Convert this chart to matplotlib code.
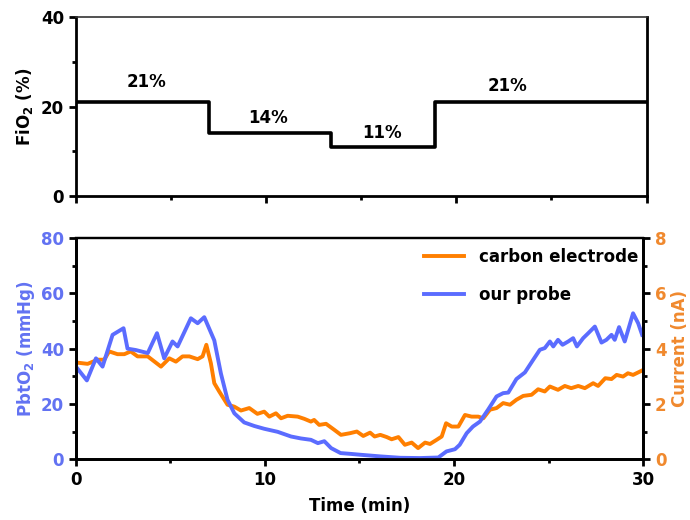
import numpy as np
import matplotlib.pyplot as plt
from matplotlib.ticker import MultipleLocator

plt.rcParams['font.family'] = 'DejaVu Sans'
plt.rcParams['font.weight'] = 'bold'
plt.rcParams['mathtext.default'] = 'bf'

BLUE = '#5B6CFF'
ORANGE = '#FF7F00'
BLUE_TXT = '#6272F2'
ORANGE_TXT = '#F0892E'

# FiO2 steps (min, %)
fio2_t = [0, 7.0, 13.4, 18.9, 30]
fio2_v = [21, 14, 11, 21, 21]
fio2_labels = ['21%', '14%', '11%', '21%']
fio2_label_x = [3.7, 10.1, 16.1, 22.7]
fio2_label_y = [25.5, 17.4, 14.1, 24.6]

# our probe: PbtO2 (mmHg)
probe_t = [0, 0.58, 1.06, 1.41, 1.94, 2.52, 2.73, 3.17, 3.8, 4.29, 4.67, 5.11, 5.38,
           6.08, 6.44, 6.79, 7.32, 7.67, 8.02, 8.38, 8.9, 9.44, 9.96, 10.67, 11.38,
           11.9, 12.43, 12.8, 13.14, 13.5, 14.0, 14.55, 15.04, 16.1, 17.15, 18.2,
           19.17, 19.6, 20.05, 20.3, 20.67, 21.0, 21.37, 21.8, 22.25, 22.6, 22.87,
           23.3, 23.75, 24.19, 24.54, 24.8, 25.07, 25.25, 25.5, 25.74, 26.04, 26.3,
           26.5, 26.83, 27.1, 27.45, 27.8, 28.06, 28.33, 28.5, 28.73, 29.03, 29.47,
           29.74, 29.95]
probe_v = [33.5, 28.5, 36.5, 33.5, 45, 47.4, 40, 39.5, 38.4, 45.6, 36.5, 42.6, 40.8,
           51, 49.2, 51.4, 43, 31, 21.5, 16.6, 13.3, 12, 11, 9.9, 8.2,
           7.5, 7, 5.8, 6.5, 4, 2.2, 1.9, 1.6, 1.0, 0.5, 0.4,
           0.6, 2.8, 3.6, 5.2, 9.4, 11.8, 13.6, 17.9, 22.7, 23.9, 24.1,
           29, 31.4, 36, 39.6, 40.2, 42.6, 40.8, 43.2, 41.4, 42.6, 43.8,
           40.8, 43.8, 45.6, 48, 42.2, 43.2, 45, 43.2, 47.8, 42.6, 52.8,
           49.2, 45]

# carbon electrode: current (nA)
carbon_t = [0, 0.62, 1.15, 1.5, 1.76, 2.2, 2.56, 2.9, 3.26, 3.8, 4.5, 4.94, 5.29,
            5.64, 6.0, 6.44, 6.7, 6.9, 7.14, 7.32, 7.58, 8.02, 8.38, 8.73, 9.17,
            9.6, 9.96, 10.23, 10.58, 10.85, 11.2, 11.73, 12.08, 12.43, 12.6, 12.87,
            13.23, 13.67, 14.02, 14.5, 14.86, 15.2, 15.56, 15.8, 16.1, 16.44, 16.7,
            17.06, 17.4, 17.76, 18.1, 18.47, 18.73, 19.08, 19.35, 19.58, 19.88,
            20.23, 20.58, 20.93, 21.28, 21.55, 21.9, 22.25, 22.6, 22.96, 23.3,
            23.66, 24.1, 24.45, 24.8, 25.07, 25.5, 25.86, 26.2, 26.57, 26.92,
            27.36, 27.62, 28.0, 28.33, 28.6, 28.94, 29.2, 29.47, 29.95]
carbon_v = [3.5, 3.45, 3.6, 3.6, 3.9, 3.8, 3.8, 3.9, 3.72, 3.72, 3.35, 3.65, 3.53,
            3.72, 3.72, 3.62, 3.72, 4.14, 3.47, 2.75, 2.45, 1.97, 1.9, 1.76, 1.85,
            1.64, 1.72, 1.54, 1.66, 1.48, 1.57, 1.54, 1.46, 1.36, 1.42, 1.24,
            1.28, 1.06, 0.88, 0.94, 1.0, 0.84, 0.96, 0.82, 0.88, 0.8, 0.72,
            0.8, 0.52, 0.6, 0.4, 0.6, 0.55, 0.7, 0.82, 1.3, 1.18,
            1.18, 1.6, 1.54, 1.54, 1.48, 1.79, 1.85, 2.03, 1.97, 2.15,
            2.29, 2.33, 2.53, 2.45, 2.63, 2.51, 2.65, 2.57, 2.65, 2.57,
            2.75, 2.65, 2.93, 2.9, 3.05, 2.99, 3.11, 3.05, 3.21]

fig = plt.figure(figsize=(6.9, 5.2), dpi=100)
ax1 = fig.add_axes([0.110, 0.623, 0.827, 0.344])
ax2 = fig.add_axes([0.110, 0.117, 0.822, 0.425])
ax3 = ax2.twinx()

FS = 12

# top panel
ax1.step(fio2_t, fio2_v, where='post', color='black', lw=2.6)
for lab, lx, ly in zip(fio2_labels, fio2_label_x, fio2_label_y):
    ax1.text(lx, ly, lab, ha='center', va='center', fontsize=FS, fontweight='bold')
ax1.set_xlim(0, 30)
ax1.set_ylim(0, 40)
ax1.xaxis.set_major_locator(MultipleLocator(10))
ax1.xaxis.set_minor_locator(MultipleLocator(5))
ax1.yaxis.set_major_locator(MultipleLocator(20))
ax1.yaxis.set_minor_locator(MultipleLocator(10))
ax1.set_xticklabels([])
ax1.set_ylabel('FiO$_2$ (%)', fontsize=FS, fontweight='bold', labelpad=4)
for s in ['left', 'bottom', 'right']:
    ax1.spines[s].set_linewidth(2.0)
ax1.spines['top'].set_linewidth(1.2)
ax1.spines['top'].set_color('#333333')
ax1.tick_params(which='both', direction='out', width=2.0, labelsize=FS)
ax1.tick_params(which='major', length=5)
ax1.tick_params(which='minor', length=3)

# bottom panel
l2, = ax2.plot(probe_t, probe_v, color=BLUE, lw=2.8, label='our probe')
l3, = ax3.plot(carbon_t, carbon_v, color=ORANGE, lw=2.8, label='carbon electrode')
ax2.set_zorder(ax3.get_zorder() + 1)
ax2.patch.set_visible(False)
ax2.set_xlim(0, 30)
ax2.set_ylim(0, 80)
ax3.set_ylim(0, 8)
ax2.xaxis.set_major_locator(MultipleLocator(10))
ax2.xaxis.set_minor_locator(MultipleLocator(5))
ax2.yaxis.set_major_locator(MultipleLocator(20))
ax2.yaxis.set_minor_locator(MultipleLocator(10))
ax3.yaxis.set_major_locator(MultipleLocator(2))
ax3.yaxis.set_minor_locator(MultipleLocator(1))
ax2.set_xlabel('Time (min)', fontsize=FS, fontweight='bold', labelpad=6)
ax2.set_ylabel('PbtO$_2$ (mmHg)', fontsize=FS, fontweight='bold', color=BLUE_TXT, labelpad=3)
ax3.set_ylabel('Current (nA)', fontsize=FS, fontweight='bold', color=ORANGE_TXT, labelpad=3)
for a in (ax2, ax3):
    for s in ['left', 'bottom', 'right']:
        a.spines[s].set_linewidth(2.0)
    a.spines['top'].set_linewidth(1.6)
    a.tick_params(which='both', direction='out', width=2.0, labelsize=FS)
    a.tick_params(which='major', length=5)
    a.tick_params(which='minor', length=3)
ax2.tick_params(axis='y', labelcolor=BLUE_TXT)
ax3.tick_params(axis='y', labelcolor=ORANGE_TXT)
ax2.legend([l3, l2], ['carbon electrode', 'our probe'], loc='upper right', frameon=False,
           fontsize=FS, handlelength=2.4, handletextpad=0.9, borderaxespad=0.2,
           labelspacing=1.2, bbox_to_anchor=(1.01, 1.0))

fig.savefig('out.png', dpi=100)
